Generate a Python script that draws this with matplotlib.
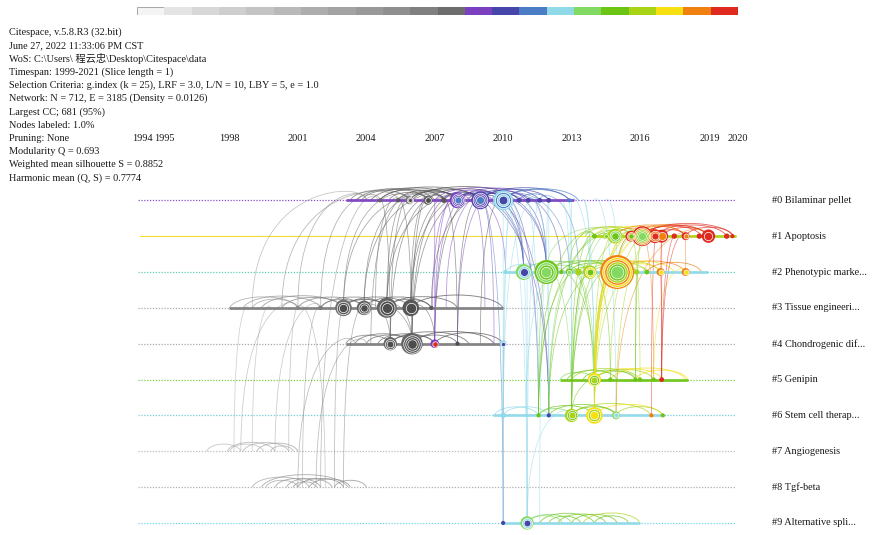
import numpy as np
import matplotlib.pyplot as plt
from matplotlib.path import Path
from matplotlib.patches import PathPatch

# ---- data -------------------------------------------------------------
slice_years = list(range(1999, 2021))
slice_colors = ['#f4f4f4', '#e4e4e4', '#d8d8d8', '#cecece', '#c4c4c4', '#b9b9b9',
                '#adadad', '#a3a3a3', '#999999', '#8f8f8f', '#808080', '#6d6d6d',
                '#7b3fbf', '#4545aa', '#4b7dc5', '#90d9e9', '#82da62', '#6cc414',
                '#a9d415', '#f6e011', '#f08010', '#df2a1f']

header = ["Citespace, v.5.8.R3 (32.bit)",
          "June 27, 2022 11:33:06 PM CST",
          "WoS: C:\\Users\\ 程云忠\\Desktop\\Citespace\\data",
          "Timespan: 1999-2021 (Slice length = 1)",
          "Selection Criteria: g.index (k = 25), LRF = 3.0, L/N = 10, LBY = 5, e = 1.0",
          "Network: N = 712, E = 3185 (Density = 0.0126)",
          "Largest CC; 681 (95%)",
          "Nodes labeled: 1.0%",
          "Pruning: None",
          "Modularity Q = 0.693",
          "Weighted mean silhouette S = 0.8852",
          "Harmonic mean (Q, S) = 0.7774"]

year_labels = [1994, 1995, 1998, 2001, 2004, 2007, 2010, 2013, 2016, 2019, 2020]

clusters = ["#0 Bilaminar pellet", "#1 Apoptosis", "#2 Phenotypic marke...",
            "#3 Tissue engineeri...", "#4 Chondrogenic dif...", "#5 Genipin",
            "#6 Stem cell therap...", "#7 Angiogenesis", "#8 Tgf-beta",
            "#9 Alternative spli..."]

# active spans of each cluster: (cluster, from, to, slice year)
spans = [(0, 2003.1, 2013.1, 2011), (1, 2013.9, 2020.2, 2017), (2, 2010.0, 2019.0, 2014),
         (3, 1998.0, 2010.0, 2006), (4, 2003.1, 2010.0, 2006), (5, 2012.5, 2018.1, 2016),
         (6, 2009.55, 2017.05, 2014), (9, 2010.0, 2016.0, 2014)]

# nodes: (cluster, year, citations, citation-ring years from outside in)
nodes = [
    (0, 2004.6, 3, (2008,)), (0, 2005.4, 3, (2009,)), (0, 2005.9, 11, (2007, 2009, 2010)),
    (0, 2006.7, 14, (2008, 2010)), (0, 2007.4, 5, (2009,)), (0, 2008.0, 44, (2011, 2012, 2011, 2013)),
    (0, 2009.0, 56, (2012, 2011, 2012, 2013)), (0, 2010.0, 69, (2014, 2013, 2014, 2012)),
    (0, 2010.7, 4, (2012,)), (0, 2011.1, 4, (2012,)), (0, 2011.6, 4, (2012,)),
    (0, 2012.0, 4, (2012,)), (0, 2012.9, 3, (2013,)),
    (1, 2014.0, 4, (2016,)), (1, 2014.5, 6, (2017, 2016)), (1, 2014.9, 37, (2017, 2015, 2016)),
    (1, 2015.6, 20, (2020, 2019, 2016)), (1, 2016.1, 69, (2020, 2019, 2017, 2016, 2015)),
    (1, 2016.65, 34, (2020, 2019, 2020)), (1, 2016.95, 29, (2020, 2019)), (1, 2017.5, 5, (2020,)),
    (1, 2018.0, 11, (2020, 2019)), (1, 2018.6, 5, (2020,)), (1, 2019.0, 31, (2020, 2020)),
    (1, 2019.8, 5, (2020,)), (1, 2020.05, 3, (2020,)),
    (2, 2010.1, 3, (2014,)), (2, 2010.9, 44, (2015, 2014, 2012)), (2, 2011.9, 100, (2016, 2015, 2016, 2015)),
    (2, 2012.55, 3, (2016,)), (2, 2012.9, 8, (2016, 2015)), (2, 2013.3, 8, (2017,)),
    (2, 2013.8, 31, (2017, 2018, 2016)), (2, 2015.0, 200, (2019, 2018, 2019, 2017, 2016, 2015)),
    (2, 2015.85, 5, (2017,)), (2, 2016.3, 4, (2016,)), (2, 2016.9, 11, (2019, 2018)),
    (2, 2018.0, 11, (2019, 2018)),
    (3, 2001.0, 3, (2005,)), (3, 2002.0, 3, (2006,)), (3, 2003.0, 48, (2007, 2009, 2010)),
    (3, 2003.9, 37, (2008, 2009, 2010)), (3, 2004.9, 69, (2008, 2010, 2010)),
    (3, 2005.95, 48, (2009, 2010)), (3, 2006.85, 3, (2009,)),
    (4, 2005.05, 31, (2008, 2009, 2010)), (4, 2006.0, 80, (2008, 2009, 2010, 2010)),
    (4, 2007.0, 13, (2011, 2020)), (4, 2008.0, 3, (2010,)), (4, 2010.0, 8, (2014, 2012)),
    (5, 2014.0, 31, (2018, 2016, 2017)), (5, 2014.7, 3, (2016,)), (5, 2015.8, 3, (2016,)),
    (5, 2016.0, 3, (2016,)), (5, 2016.6, 3, (2016,)), (5, 2016.95, 4, (2020,)),
    (6, 2010.0, 5, (2014,)), (6, 2011.55, 3, (2016,)), (6, 2012.0, 3, (2012,)),
    (6, 2013.0, 31, (2017, 2016, 2017)), (6, 2014.0, 48, (2018, 2017, 2018)),
    (6, 2014.95, 11, (2015, 2014)), (6, 2016.5, 3, (2019,)), (6, 2017.0, 3, (2016,)),
    (9, 2010.0, 3, (2012,)), (9, 2011.05, 31, (2015, 2014, 2012)),
]

# co-citation arcs inside one cluster: (cluster, year a, year b, slice year)
lane_arcs = [
    (0, 2003.3, 2005.9, 2007), (0, 2003.8, 2006.7, 2008), (0, 2004.2, 2008.0, 2009),
    (0, 2004.6, 2007.4, 2009), (0, 2005.4, 2008.0, 2010), (0, 2005.9, 2009.0, 2010),
    (0, 2006.7, 2010.0, 2010), (0, 2004.6, 2009.0, 2009), (0, 2005.0, 2006.7, 2008),
    (0, 2005.9, 2008.0, 2009), (0, 2006.0, 2010.7, 2010), (0, 2003.6, 2007.0, 2008),
    (0, 2008.0, 2010.0, 2011), (0, 2008.0, 2011.6, 2012), (0, 2009.0, 2012.0, 2012),
    (0, 2009.0, 2012.9, 2012), (0, 2010.0, 2012.9, 2013), (0, 2008.0, 2009.0, 2011),
    (0, 2009.0, 2010.7, 2012), (0, 2007.4, 2010.0, 2011), (0, 2010.0, 2013.3, 2013),
    (0, 2008.6, 2011.1, 2012), (0, 2007.0, 2011.0, 2011), (0, 2010.7, 2012.0, 2013),
    (1, 2014.0, 2016.1, 2018), (1, 2014.5, 2017.0, 2018), (1, 2014.9, 2016.7, 2019),
    (1, 2015.6, 2019.0, 2019), (1, 2016.1, 2019.0, 2020), (1, 2016.1, 2020.1, 2020),
    (1, 2016.7, 2019.8, 2020), (1, 2015.6, 2018.0, 2019), (1, 2017.0, 2019.0, 2020),
    (1, 2016.1, 2018.7, 2020), (1, 2013.6, 2016.0, 2017), (1, 2014.9, 2018.0, 2019),
    (1, 2016.7, 2018.0, 2020), (1, 2018.0, 2020.1, 2020), (1, 2013.4, 2015.6, 2017),
    (2, 2010.9, 2013.8, 2015), (2, 2011.9, 2015.0, 2016), (2, 2011.9, 2013.3, 2015),
    (2, 2012.5, 2015.85, 2016), (2, 2013.8, 2016.9, 2017), (2, 2015.0, 2018.0, 2019),
    (2, 2015.0, 2016.9, 2018), (2, 2013.3, 2016.3, 2017), (2, 2010.1, 2011.9, 2014),
    (2, 2014.5, 2017.5, 2018), (2, 2012.9, 2015.0, 2016), (2, 2016.3, 2018.7, 2019),
    (3, 1998.0, 2001.0, 2003), (3, 1998.6, 2002.0, 2004), (3, 1999.4, 2003.0, 2005),
    (3, 2000.3, 2003.0, 2006), (3, 2001.0, 2003.9, 2006), (3, 2002.0, 2004.9, 2007),
    (3, 2003.0, 2005.95, 2008), (3, 2003.9, 2006.85, 2009), (3, 2004.9, 2008.0, 2009),
    (3, 2005.95, 2010.0, 2010), (3, 2003.0, 2004.9, 2008), (3, 2002.0, 2003.9, 2006),
    (3, 1999.0, 2001.0, 2003), (3, 2004.9, 2006.85, 2009),
    (4, 2003.1, 2005.05, 2007), (4, 2004.0, 2006.0, 2008), (4, 2005.05, 2007.0, 2009),
    (4, 2006.0, 2008.0, 2009), (4, 2006.0, 2009.6, 2010), (4, 2007.0, 2010.0, 2010),
    (4, 2004.5, 2007.0, 2008), (4, 2003.5, 2006.0, 2008), (4, 2005.05, 2008.5, 2009),
    (5, 2012.5, 2014.0, 2015), (5, 2013.0, 2016.0, 2017), (5, 2014.0, 2016.6, 2017),
    (5, 2014.0, 2017.0, 2018), (5, 2014.7, 2018.0, 2018), (5, 2013.5, 2015.8, 2016),
    (5, 2015.8, 2018.1, 2018), (5, 2012.8, 2015.0, 2016),
    (6, 2009.6, 2011.55, 2014), (6, 2010.0, 2012.0, 2014), (6, 2011.55, 2014.0, 2016),
    (6, 2012.0, 2014.95, 2016), (6, 2013.0, 2016.5, 2017), (6, 2014.0, 2017.0, 2018),
    (6, 2011.55, 2013.0, 2015), (6, 2013.0, 2015.0, 2016), (6, 2014.95, 2017.0, 2017),
    (7, 1997.0, 1998.5, 2001), (7, 1997.9, 2000.0, 2002), (7, 1998.6, 2000.6, 2002),
    (7, 1999.2, 2001.0, 2003), (7, 1998.0, 1999.5, 2001), (7, 1999.8, 2000.8, 2002),
    (8, 1999.0, 2001.5, 2003), (8, 1999.6, 2001.0, 2003), (8, 2000.0, 2002.0, 2004),
    (8, 2000.5, 2002.5, 2004), (8, 2001.0, 2003.0, 2005), (8, 2001.5, 2003.3, 2005),
    (8, 2002.6, 2004.0, 2005), (8, 2000.8, 2001.8, 2004), (8, 1999.4, 2003.2, 2004),
    (9, 2011.05, 2013.0, 2015), (9, 2011.6, 2014.0, 2016), (9, 2012.4, 2014.5, 2016),
    (9, 2013.0, 2015.0, 2016), (9, 2013.5, 2016.0, 2017), (9, 2012.0, 2013.4, 2016),
    (9, 2014.0, 2015.5, 2016), (9, 2011.05, 2012.6, 2015),
]

# co-citation links across clusters: (cluster a, year a, cluster b, year b, slice year)
links = [
    (3, 2003.0, 0, 2005.9, 2008), (3, 2003.0, 0, 2007.4, 2009), (3, 2003.9, 0, 2006.7, 2009),
    (3, 2003.9, 0, 2008.0, 2010), (3, 2004.9, 0, 2005.9, 2009), (3, 2004.9, 0, 2007.4, 2010),
    (3, 2004.9, 0, 2009.0, 2010), (3, 2005.95, 0, 2006.7, 2009), (3, 2005.95, 0, 2008.0, 2010),
    (3, 2002.0, 0, 2004.6, 2007), (3, 2001.0, 0, 2004.0, 2006), (3, 2004.4, 0, 2005.4, 2008),
    (4, 2005.05, 0, 2005.9, 2009), (4, 2005.05, 0, 2007.4, 2010), (4, 2006.0, 0, 2006.7, 2010),
    (4, 2006.0, 0, 2008.0, 2010), (4, 2006.0, 0, 2009.0, 2010), (4, 2005.05, 0, 2004.6, 2008),
    (4, 2006.0, 0, 2005.4, 2009), (4, 2004.2, 0, 2006.0, 2008),
    (4, 2007.0, 0, 2009.0, 2010), (4, 2008.0, 0, 2009.0, 2010), (3, 2006.85, 0, 2010.0, 2010),
    (4, 2008.0, 0, 2007.4, 2010), (3, 2005.95, 0, 2009.0, 2010), (4, 2009.0, 0, 2010.0, 2010),
    (4, 2005.05, 3, 2003.9, 2008), (4, 2006.0, 3, 2004.9, 2009), (4, 2006.0, 3, 2003.0, 2008),
    (4, 2007.0, 3, 2005.95, 2009),
    (7, 2000.6, 3, 2001.0, 2003), (8, 2001.2, 3, 2002.0, 2004), (8, 2002.0, 0, 2004.5, 2005),
    (8, 2002.6, 3, 2003.0, 2005), (8, 2001.0, 4, 2003.5, 2005), (7, 1999.0, 3, 1999.8, 2002),
    (8, 2002.2, 3, 2001.0, 2003), (3, 1999.0, 0, 2004.0, 2004), (3, 1998.8, 7, 1998.2, 2002),
    (3, 2000.3, 0, 2005.4, 2006), (7, 1998.5, 3, 2001.0, 2003), (7, 2000.0, 3, 2002.0, 2003),
    (8, 2003.0, 3, 2003.9, 2006), (8, 2001.8, 4, 2004.0, 2005),
    (0, 2007.8, 4, 2007.0, 2011), (0, 2008.5, 4, 2007.0, 2011), (0, 2009.2, 3, 2007.5, 2011),
    (0, 2008.0, 3, 2006.9, 2011), (0, 2009.5, 4, 2008.0, 2011), (0, 2008.2, 2, 2010.1, 2011),
    (0, 2007.0, 4, 2007.0, 2011), (0, 2009.0, 4, 2009.6, 2011), (0, 2008.6, 3, 2009.2, 2011),
    (0, 2008.0, 2, 2010.9, 2012), (0, 2009.0, 2, 2010.9, 2012), (0, 2009.0, 2, 2011.9, 2012),
    (0, 2010.0, 2, 2011.9, 2012), (0, 2008.5, 2, 2011.9, 2012), (0, 2009.5, 2, 2010.9, 2012),
    (0, 2007.4, 2, 2010.9, 2012), (0, 2010.0, 2, 2012.55, 2012), (0, 2011.1, 2, 2011.9, 2012),
    (0, 2008.0, 6, 2012.0, 2012), (0, 2009.0, 6, 2012.0, 2012), (0, 2010.0, 6, 2011.55, 2012),
    (0, 2010.0, 2, 2012.9, 2013), (0, 2011.6, 2, 2013.3, 2013), (0, 2009.0, 9, 2010.0, 2013),
    (4, 2010.0, 9, 2010.0, 2013), (2, 2011.05, 9, 2011.05, 2014),
    (0, 2010.0, 2, 2010.9, 2014), (0, 2010.7, 2, 2010.1, 2014), (0, 2012.0, 2, 2011.9, 2014),
    (0, 2010.0, 6, 2010.0, 2014), (0, 2011.0, 6, 2011.55, 2014), (0, 2012.0, 6, 2012.0, 2014),
    (0, 2010.0, 9, 2011.05, 2014), (0, 2010.3, 9, 2010.0, 2014), (2, 2010.9, 9, 2011.05, 2014),
    (2, 2011.9, 6, 2012.0, 2014), (0, 2012.9, 6, 2013.0, 2014), (0, 2013.5, 2, 2013.8, 2014),
    (0, 2014.0, 6, 2014.95, 2014), (0, 2013.0, 5, 2014.0, 2014), (2, 2010.1, 6, 2010.0, 2014),
    (2, 2010.9, 6, 2011.55, 2014), (0, 2011.6, 9, 2011.05, 2014),
    (0, 2012.5, 2, 2012.9, 2014), (0, 2013.0, 6, 2013.0, 2014), (0, 2011.5, 6, 2010.0, 2014),
    (0, 2013.5, 6, 2014.0, 2014), (2, 2011.9, 9, 2011.6, 2014),
    (0, 2011.0, 2, 2011.9, 2014), (0, 2014.5, 2, 2015.0, 2014),
    (6, 2011.0, 2, 2012.5, 2014), (9, 2011.05, 6, 2013.0, 2014),
    (2, 2011.9, 6, 2013.0, 2015), (2, 2013.8, 6, 2011.55, 2016), (2, 2015.0, 6, 2013.0, 2016),
    (2, 2015.0, 6, 2014.0, 2016), (2, 2013.3, 6, 2012.0, 2015), (2, 2012.9, 6, 2014.0, 2016),
    (2, 2011.9, 5, 2014.0, 2016), (2, 2015.0, 5, 2014.0, 2016), (2, 2013.8, 5, 2014.7, 2016),
    (2, 2015.85, 5, 2015.8, 2016), (1, 2014.0, 6, 2011.55, 2016), (1, 2014.9, 6, 2012.0, 2016),
    (1, 2016.1, 6, 2013.0, 2016), (1, 2014.5, 6, 2013.0, 2016), (1, 2015.6, 6, 2014.0, 2017),
    (1, 2014.9, 2, 2011.9, 2015), (1, 2016.1, 2, 2015.0, 2016), (1, 2014.0, 2, 2012.9, 2016),
    (1, 2016.7, 2, 2015.0, 2017), (1, 2014.9, 5, 2014.0, 2017), (1, 2016.1, 5, 2014.0, 2017),
    (1, 2015.6, 5, 2016.0, 2017), (6, 2014.0, 5, 2014.0, 2016), (6, 2013.0, 5, 2015.8, 2016),
    (2, 2011.9, 6, 2011.55, 2016), (1, 2015.6, 6, 2011.55, 2016), (1, 2014.9, 6, 2013.0, 2015),
    (2, 2013.8, 6, 2013.0, 2016), (2, 2015.0, 6, 2012.0, 2016), (1, 2016.1, 5, 2015.8, 2016),
    (1, 2014.0, 5, 2013.0, 2016), (2, 2012.9, 5, 2014.0, 2015), (1, 2016.7, 5, 2014.7, 2017),
    (2, 2016.3, 6, 2014.0, 2017),
    (1, 2016.0, 5, 2014.0, 2018), (1, 2016.7, 6, 2014.0, 2018), (2, 2015.0, 5, 2014.0, 2018),
    (1, 2015.6, 6, 2014.0, 2018), (1, 2017.0, 6, 2014.95, 2017), (2, 2018.0, 5, 2016.6, 2018),
    (1, 2017.0, 5, 2014.0, 2018), (2, 2015.0, 6, 2014.0, 2018), (1, 2019.0, 6, 2014.95, 2019),
    (1, 2016.1, 5, 2016.6, 2019),
    (1, 2016.1, 2, 2015.0, 2019), (2, 2016.9, 1, 2017.0, 2019), (2, 2018.0, 1, 2018.0, 2019),
    (1, 2016.95, 5, 2016.95, 2020), (1, 2017.6, 5, 2016.95, 2020), (1, 2018.0, 5, 2016.95, 2020),
    (1, 2016.7, 6, 2016.5, 2020), (2, 2016.9, 5, 2016.95, 2020),
]

# ---- style ------------------------------------------------------------
lane_colors = ['#8a4fd0', '#f2e030', '#58d0b4', '#a8a8a8', '#a8a8a8',
               '#7ccc40', '#70d0d8', '#bdbdbd', '#b0b0b0', '#6fd8e6']
PX_YEAR = 22.81   # pixels per year
PX_LANE = 35.85   # pixels per cluster row
W, H = 881, 535
FONT = 'Liberation Serif'
FS = 7.4


def year_color(yr):
    if yr >= 2011:
        return slice_colors[yr - 1999]
    g = np.interp(yr, [1999, 2010], [0.80, 0.30])
    return (g, g, g)


def curve(ax, x1, l1, x2, l2, color, lw, alpha):
    dx = abs(x2 - x1) * PX_YEAR
    h = 0.3 * dx / (1 + dx / 80.0) / 0.75 / PX_LANE
    top = min(l1, l2) - h
    if l1 == l2:
        c1, c2 = x1 + 0.12 * (x2 - x1), x2 - 0.12 * (x2 - x1)
    else:
        c1, c2 = x1, x2
    p = Path([(x1, l1), (c1, top), (c2, top), (x2, l2)],
             [Path.MOVETO, Path.CURVE4, Path.CURVE4, Path.CURVE4])
    ax.add_patch(PathPatch(p, fc='none', ec=color, lw=lw, alpha=alpha, zorder=2))


fig = plt.figure(figsize=(8.81, 5.35), dpi=100)

# time slice colour bar
axc = fig.add_axes([137 / W, 1 - 15 / H, 601 / W, 8 / H])
axc.bar(np.arange(len(slice_years)), 1, width=1, align='edge', color=slice_colors,
        edgecolor=['#9a9a9a'] + ['none'] * (len(slice_years) - 1), linewidth=0.6)
axc.set_xlim(0, len(slice_years))
axc.set_ylim(0, 1)
axc.axis('off')

# header text
for i, line in enumerate(header):
    fig.text(9 / W, 1 - (32 + 13.3 * i) / H, line, fontsize=FS, va='center',
             family=[FONT, 'Noto Sans CJK SC'], color='#1a1a1a')

# timeline
ax = fig.add_axes([100 / W, 0, 660 / W, 385 / H])
ax.set_xlim(1994 - 38.2 / PX_YEAR, 1994 + 621.8 / PX_YEAR)
ax.set_ylim((535 - 200.3) / PX_LANE, (150 - 200.3) / PX_LANE)
ax.axis('off')

nudge = {1994: 0.2, 1995: 0.13, 2019: 0.07, 2020: 0.3}
for yr in year_labels:
    ax.text(yr + nudge.get(yr, 0), -1.71, str(yr), ha='center', va='center',
            fontsize=FS, family=FONT, color='#1a1a1a')

for i, name in enumerate(clusters):
    if i == 1:
        ax.plot([1994.1, 2020.2], [i, i], color=lane_colors[i], lw=0.8, zorder=1)
    else:
        ax.plot([1994, 2020.2], [i, i], color=lane_colors[i], lw=0.9,
                ls=(0, (1, 1.3)), zorder=1)
    ax.text(1994 + (772 - 138.2) / PX_YEAR, i, name, ha='left', va='center',
            fontsize=FS, family=FONT, color='#1a1a1a')

for lane, a, b, yr in lane_arcs:
    curve(ax, a, lane, b, lane, year_color(yr), 0.65, 0.7)

for la, a, lb, b, yr in links:
    curve(ax, a, la, b, lb, year_color(yr), 0.55, 0.55)

for lane, a, b, yr in spans:
    ax.plot([a, b], [lane, lane], color=year_color(yr), lw=2.0,
            solid_capstyle='butt', alpha=0.9, zorder=3)

for lane, yr, cites, rings in nodes:
    r = 1.2 * np.sqrt(cites)
    n = len(rings)
    for k, ry in enumerate(rings):
        rk = r * (1 - 0.75 * k / n)
        ax.scatter([yr], [lane], s=(2 * rk * 0.72) ** 2, color=year_color(ry),
                   edgecolors='white' if k else 'none', linewidths=0.5, zorder=4 + k)

fig.savefig('out.png', dpi=100)
